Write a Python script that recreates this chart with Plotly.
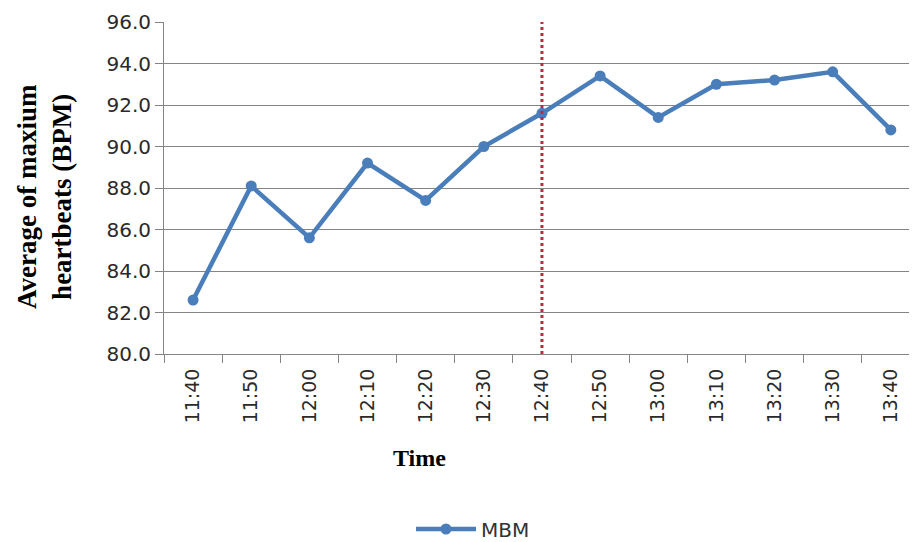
import plotly.graph_objects as go

times = ["11:40", "11:50", "12:00", "12:10", "12:20", "12:30", "12:40",
         "12:50", "13:00", "13:10", "13:20", "13:30", "13:40"]
mbm = [82.6, 88.1, 85.6, 89.2, 87.4, 90.0, 91.6, 93.4, 91.4, 93.0, 93.2, 93.6, 90.8]
marker_time = "12:40"
y_ticks = [80, 82, 84, 86, 88, 90, 92, 94, 96]

OFF = 8  # default page body margin
W, H = 917 - OFF, 542 - OFF
L, R, T, B = 164 - OFF, 0, 22 - OFF, 542 - 354
pw, ph = W - L - R, H - T - B

def px(x):
    return (x - OFF - L) / pw

def py(y):
    return (H - B - (y - OFF)) / ph

blue = "#4A7EBB"
grid = "#858585"

fig = go.Figure()
fig.add_trace(go.Scatter(
    x=times, y=mbm, mode="lines+markers", name="MBM",
    line=dict(color=blue, width=4.5),
    marker=dict(color=blue, size=11, symbol="circle"),
))

fig.add_shape(type="line", xref="x", yref="y",
              x0=times.index(marker_time), x1=times.index(marker_time),
              y0=y_ticks[0], y1=y_ticks[-1],
              line=dict(color="#C0283C", width=3, dash="dot"))

fig.update_layout(
    width=W, height=H,
    margin=dict(l=L, r=R, t=T, b=B, pad=0, autoexpand=False),
    paper_bgcolor="white", plot_bgcolor="white",
    showlegend=True,
    legend=dict(orientation="h", x=px(473), y=py(529), xanchor="center",
                yanchor="middle", font=dict(family="DejaVu Sans", size=20, color="#333333"),
                itemwidth=60),
    xaxis=dict(type="category", categoryorder="array", categoryarray=times,
               range=[-0.5, 12.45], tickangle=-90, automargin=False,
               tickfont=dict(family="DejaVu Sans", size=19, color="#2a2a2a"),
               ticks="outside", tickson="boundaries", ticklen=8, tickcolor=grid,
               ticklabelstandoff=6,
               showline=True, linecolor=grid, linewidth=1, showgrid=False,
               zeroline=False),
    yaxis=dict(range=[80, 96], tickvals=y_ticks, automargin=False,
               ticktext=[f"{v:.1f}" for v in y_ticks],
               tickfont=dict(family="DejaVu Sans", size=20, color="#2a2a2a"),
               ticks="outside", ticklen=8, tickcolor=grid,
               showline=True, linecolor=grid, linewidth=1,
               showgrid=True, gridcolor=grid, gridwidth=1.3, zeroline=False),
    annotations=[
        dict(text="<b>Time</b>", xref="paper", yref="paper", x=px(419), y=py(458),
             xanchor="center", yanchor="middle", showarrow=False,
             font=dict(family="Liberation Serif", size=24, color="black")),
        dict(text="<b>Average of maxium<br>heartbeats (BPM)</b>", xref="paper", yref="paper",
             x=px(44), y=py(197), xanchor="center", yanchor="middle", showarrow=False,
             textangle=-90,
             font=dict(family="Liberation Serif", size=27, color="black")),
    ],
)

fig.write_html("out.html")
